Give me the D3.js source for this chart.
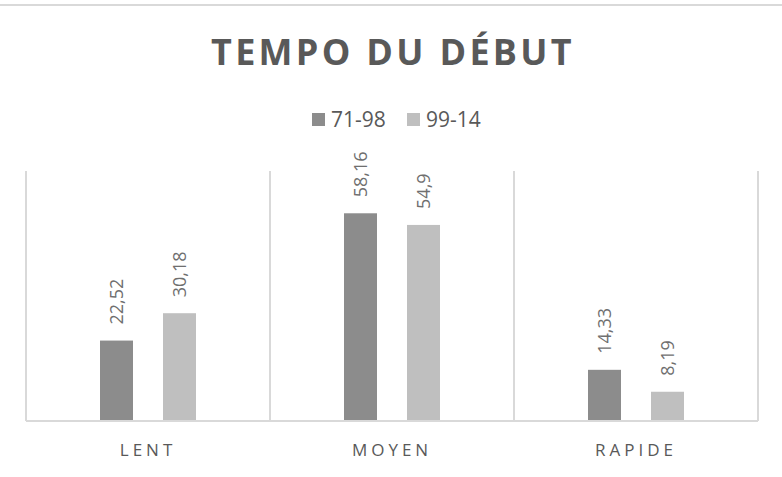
<!DOCTYPE html>
<html>
<head>
<meta charset="utf-8">
<script src="https://cdn.jsdelivr.net/npm/d3@7/dist/d3.min.js"></script>
<style>
  body { margin: 0; background: #fff; }
  svg { display: block; font-family: "Open Sans", sans-serif; }
</style>
</head>
<body>
<div id="root"></div>
<script>
const categories = ["LENT", "MOYEN", "RAPIDE"]
const seriesNames = ["71-98", "99-14"]
const values7198 = [22.52, 58.16, 14.33]
const values9914 = [30.18, 54.9, 8.19]
const seriesColors = ["#8c8c8c", "#bfbfbf"]
const yMax = 70

const width = 782
const height = 477
const margin = { top: 171, right: 24, bottom: 56, left: 26 }

const series = seriesNames.map((name, i) => ({
  name,
  color: seriesColors[i],
  values: [values7198, values9914][i],
}))

const svg = d3.select("#root").append("svg")
  .attr("width", width)
  .attr("height", height)

// outer frame top line
svg.append("line")
  .attr("x1", 0).attr("x2", width)
  .attr("y1", 5).attr("y2", 5)
  .attr("stroke", "#d9d9d9")
  .attr("stroke-width", 2)

const x0 = d3.scaleBand()
  .domain(categories)
  .range([margin.left, width - margin.right])
  .padding(0)

const x1 = d3.scaleBand()
  .domain(seriesNames)
  .range([0, x0.bandwidth()])
  .paddingInner(30 / 63)
  .paddingOuter(1.175)

const y = d3.scaleLinear()
  .domain([0, yMax])
  .range([height - margin.bottom, margin.top])

// vertical gridlines at category boundaries
const bounds = d3.range(categories.length + 1).map(i => x0.range()[0] + i * x0.step())
svg.append("g").selectAll("line")
  .data(bounds)
  .join("line")
  .attr("x1", d => d).attr("x2", d => d)
  .attr("y1", y(yMax)).attr("y2", y(0))
  .attr("stroke", "#d9d9d9")
  .attr("stroke-width", 2)

// bars
const groups = svg.append("g").selectAll("g")
  .data(series)
  .join("g")
  .attr("fill", d => d.color)

groups.selectAll("rect")
  .data(s => s.values.map((v, i) => ({ name: s.name, cat: categories[i], v })))
  .join("rect")
  .attr("x", d => x0(d.cat) + x1(d.name))
  .attr("width", x1.bandwidth())
  .attr("y", d => y(d.v))
  .attr("height", d => y(0) - y(d.v))

// data labels
groups.selectAll("text")
  .data(s => s.values.map((v, i) => ({ name: s.name, cat: categories[i], v })))
  .join("text")
  .attr("transform", d => `translate(${x0(d.cat) + x1(d.name) + x1.bandwidth() / 2},${y(d.v) - 16}) rotate(-90)`)
  .attr("dy", "0.35em")
  .attr("fill", "#6f6f6f")
  .style("font-size", "18px")
  .text(d => String(d.v).replace(".", ","))

// baseline
svg.append("line")
  .attr("x1", x0.range()[0]).attr("x2", x0.range()[1])
  .attr("y1", y(0)).attr("y2", y(0))
  .attr("stroke", "#d9d9d9")
  .attr("stroke-width", 2)

// category axis
const xAxis = svg.append("g")
  .attr("transform", `translate(0,${y(0)})`)
  .call(d3.axisBottom(x0).tickSize(0).tickPadding(0))
xAxis.select(".domain").remove()
xAxis.selectAll("text")
  .attr("y", 35)
  .attr("dy", 0)
  .attr("dx", 0)
  .attr("fill", "#595959")
  .style("font-family", "Open Sans")
  .style("font-size", "17px")
  .style("letter-spacing", "4px")

// title
svg.append("text")
  .attr("x", width / 2 + 2)
  .attr("y", 65)
  .attr("text-anchor", "middle")
  .attr("fill", "#595959")
  .style("font-size", "36px")
  .style("font-weight", "bold")
  .style("letter-spacing", "3.3px")
  .text("TEMPO DU DÉBUT")

// legend
const legendItems = [{ x: 312 }, { x: 407 }]
const legend = svg.append("g").selectAll("g")
  .data(series)
  .join("g")
  .attr("transform", (d, i) => `translate(${legendItems[i].x},113)`)
legend.append("rect")
  .attr("width", 13).attr("height", 13)
  .attr("fill", d => d.color)
legend.append("text")
  .attr("x", 19)
  .attr("y", 14)
  .attr("fill", "#595959")
  .style("font-size", "21px")
  .text(d => d.name)
</script>
</body>
</html>
